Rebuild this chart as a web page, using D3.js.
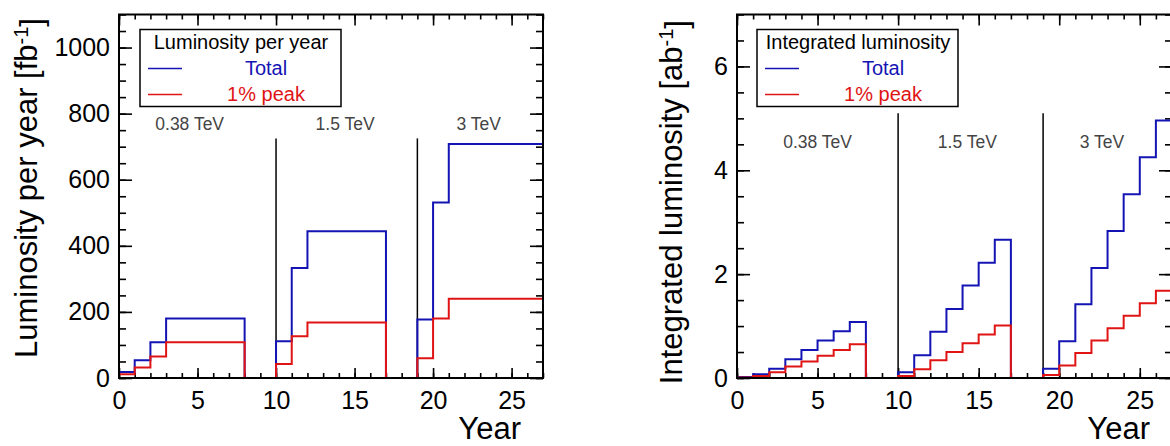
<!DOCTYPE html>
<html>
<head>
<meta charset="utf-8">
<script src="https://cdn.jsdelivr.net/npm/d3@7"></script>
<style>
  body { margin: 0; background: #fff; }
  svg text { font-family: "Liberation Sans", Arial, Helvetica, sans-serif; }
</style>
</head>
<body>
<div id="chart"></div>
<script>

// year bins 0..27
var yearEdges = [0, 1, 2, 3, 4, 5, 6, 7, 8, 9, 10, 11, 12, 13, 14, 15, 16, 17, 18, 19, 20, 21, 22, 23, 24, 25, 26, 27];
var stageNames = ["0.38 TeV", "1.5 TeV", "3 TeV"];
var stageBoundaries = [10, 19];

// luminosity per year [fb^-1]
var perYearTotal = [18, 54, 108, 180, 180, 180, 180, 180, 0, 0, 111, 333, 444, 444, 444, 444, 444, 0, 0, 177, 531, 708, 708, 708, 708, 708, 708];
var perYearPeak  = [11, 32, 65, 108, 108, 108, 108, 108, 0, 0, 42, 126, 168, 168, 168, 168, 168, 0, 0, 60, 180, 240, 240, 240, 240, 240, 240];

// integrated luminosity [ab^-1]
var integratedTotal = [0.02, 0.07, 0.18, 0.36, 0.54, 0.72, 0.90, 1.08, 0, 0, 0.11, 0.44, 0.89, 1.33, 1.78, 2.22, 2.66, 0, 0, 0.18, 0.71, 1.42, 2.12, 2.83, 3.54, 4.25, 4.96];
var integratedPeak  = [0.01, 0.04, 0.11, 0.22, 0.32, 0.43, 0.54, 0.65, 0, 0, 0.04, 0.17, 0.34, 0.50, 0.67, 0.84, 1.01, 0, 0, 0.06, 0.24, 0.48, 0.72, 0.96, 1.20, 1.44, 1.68];

var xMajorTicks = [0, 5, 10, 15, 20, 25];
var leftYMajor = [0, 200, 400, 600, 800, 1000];
var rightYMajor = [0, 2, 4, 6];

var legendLabels = ["Total", "1% peak"];
var blue = "#1414b4";
var red = "#e01414";

var svg = d3.select("#chart")
            .append("svg")
            .attr("width", 1170)
            .attr("height", 446);

function drawPanel(p) {
  var x = d3.scaleLinear().domain([0, 27]).range([p.left, p.right]);
  var y = d3.scaleLinear().domain([0, p.ymax]).range([378, 14.5]);
  var g = svg.append("g");

  var xMinor = d3.range(0, 28, 1);
  var yMinor = d3.range(0, p.ymax + 1e-9, p.yMinorStep);

  // ticks, all pointing into the frame
  function axis(gen, scale, vals, size, labels, transform, pad) {
    var a = gen(scale).tickValues(vals).tickSize(-size).tickPadding(pad || 3);
    a.tickFormat(labels ? d3.format("d") : "");
    var ag = g.append("g").attr("transform", transform).call(a);
    ag.select(".domain").remove();
    ag.selectAll("line").attr("stroke", "#000").attr("stroke-width", 1.6);
    ag.selectAll("text").attr("font-size", 25).attr("fill", "#000")
      .style("font-family", "'Liberation Sans', Arial, Helvetica, sans-serif");
    return ag;
  }
  axis(d3.axisBottom, x, xMinor, 5, false, "translate(0,378)");
  axis(d3.axisBottom, x, xMajorTicks, 10, true, "translate(0,378)", 13);
  axis(d3.axisTop, x, xMinor, 5, false, "translate(0,14.5)");
  axis(d3.axisTop, x, xMajorTicks, 11, false, "translate(0,14.5)");
  axis(d3.axisLeft, y, yMinor, 7, false, "translate(" + p.left + ",0)");
  axis(d3.axisLeft, y, p.yMajor, 13, true, "translate(" + p.left + ",0)", 9);
  axis(d3.axisRight, y, yMinor, 7, false, "translate(" + p.right + ",0)");
  axis(d3.axisRight, y, p.yMajor, 13, false, "translate(" + p.right + ",0)");

  // stage separators
  g.selectAll("line.sep")
   .data(stageBoundaries)
   .enter()
   .append("line")
   .attr("class", "sep")
   .attr("x1", function(d) { return x(d); })
   .attr("x2", function(d) { return x(d); })
   .attr("y1", y(p.sepTop))
   .attr("y2", y(0))
   .attr("stroke", "#000")
   .attr("stroke-width", 1.5);

  g.selectAll("text.stage")
   .data(stageNames)
   .enter()
   .append("text")
   .attr("class", "stage")
   .attr("x", function(d, i) { return x(p.stageX[i]); })
   .attr("y", y(p.stageY))
   .attr("dy", "0.35em")
   .attr("text-anchor", "middle")
   .attr("font-size", 17.5)
   .attr("fill", "#444")
   .text(function(d) { return d; });

  // histograms drawn as steps
  var line = d3.line()
               .x(function(d) { return x(d[0]); })
               .y(function(d) { return y(d[1]); });
  function steps(vals) {
    var pts = [[yearEdges[0], 0]];
    vals.forEach(function(v, i) {
      pts.push([yearEdges[i], v]);
      pts.push([yearEdges[i + 1], v]);
    });
    pts.push([yearEdges[yearEdges.length - 1], 0]);
    return pts;
  }
  [[p.total, blue], [p.peak, red]].forEach(function(s) {
    g.append("path")
     .attr("d", line(steps(s[0])))
     .attr("fill", "none")
     .attr("stroke", s[1])
     .attr("stroke-width", 2);
  });

  // frame
  g.append("rect")
   .attr("x", p.left)
   .attr("y", 14.5)
   .attr("width", p.right - p.left)
   .attr("height", 378 - 14.5)
   .attr("fill", "none")
   .attr("stroke", "#000")
   .attr("stroke-width", 2);

  // legend
  var lx = p.legendX, ly = 29.5;
  g.append("rect")
   .attr("x", lx).attr("y", ly)
   .attr("width", 201).attr("height", 77)
   .attr("fill", "#fff")
   .attr("stroke", "#000")
   .attr("stroke-width", 1.5);
  g.append("text")
   .attr("x", lx + 101).attr("y", ly + 19)
   .attr("text-anchor", "middle")
   .attr("font-size", 20)
   .text(p.legendTitle);
  legendLabels.forEach(function(lab, i) {
    var col = i == 0 ? blue : red;
    var yy = ly + 39 + i * 26;
    g.append("line")
     .attr("x1", lx + 8).attr("x2", lx + 42)
     .attr("y1", yy).attr("y2", yy)
     .attr("stroke", col).attr("stroke-width", 1.5);
    g.append("text")
     .attr("x", lx + 126).attr("y", yy + 6)
     .attr("text-anchor", "middle")
     .attr("font-size", 20)
     .attr("fill", col)
     .text(lab);
  });

  // axis titles
  g.append("text")
   .attr("x", p.right - 22)
   .attr("y", 439)
   .attr("text-anchor", "end")
   .attr("font-size", 31)
   .text("Year");

  var yt = g.append("text")
            .attr("transform", "translate(" + p.titleX + "," + p.titleTop + ") rotate(-90)")
            .attr("text-anchor", "end")
            .attr("font-size", 31);
  yt.append("tspan").text(p.yTitle + " [" + p.unit);
  yt.append("tspan").attr("dy", "-0.45em").attr("font-size", 20).text("-1");
  yt.append("tspan").attr("dy", "0.45em").text("]");
}

drawPanel({
  left: 119, right: 543, ymax: 1100, yMinorStep: 50, yMajor: leftYMajor,
  total: perYearTotal, peak: perYearPeak,
  sepTop: 725, stageX: [4.5, 14.4, 22.9], stageY: 770,
  legendX: 140, legendTitle: "Luminosity per year",
  titleX: 37, titleTop: 18, yTitle: "Luminosity per year", unit: "fb"
});

drawPanel({
  left: 737, right: 1172, ymax: 7, yMinorStep: 0.5, yMajor: rightYMajor,
  total: integratedTotal, peak: integratedPeak,
  sepTop: 5.1, stageX: [5.0, 14.3, 22.65], stageY: 4.55,
  legendX: 757, legendTitle: "Integrated luminosity",
  titleX: 682, titleTop: 20, yTitle: "Integrated luminosity", unit: "ab"
});

</script>
</body>
</html>
